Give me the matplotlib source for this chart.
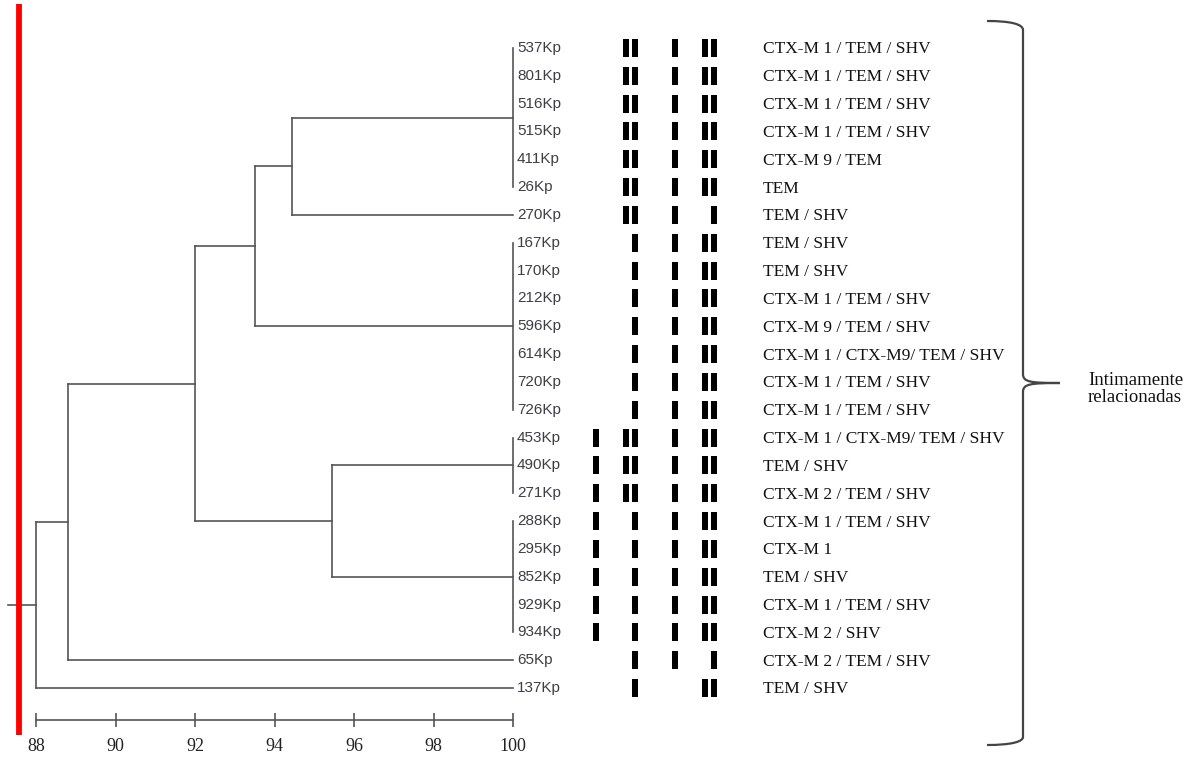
import matplotlib
matplotlib.use("Agg")
import matplotlib.pyplot as plt
from matplotlib.path import Path
from matplotlib.patches import PathPatch
import numpy as np

# ---------------- data ----------------
strains = ["537Kp", "801Kp", "516Kp", "515Kp", "411Kp", "26Kp", "270Kp",
           "167Kp", "170Kp", "212Kp", "596Kp", "614Kp", "720Kp", "726Kp",
           "453Kp", "490Kp", "271Kp", "288Kp", "295Kp", "852Kp", "929Kp",
           "934Kp", "65Kp", "137Kp"]

genes = ["CTX-M 1 / TEM / SHV", "CTX-M 1 / TEM / SHV", "CTX-M 1 / TEM / SHV",
         "CTX-M 1 / TEM / SHV", "CTX-M 9 / TEM", "TEM", "TEM / SHV",
         "TEM / SHV", "TEM / SHV", "CTX-M 1 / TEM / SHV", "CTX-M 9 / TEM / SHV",
         "CTX-M 1 / CTX-M9/ TEM / SHV", "CTX-M 1 / TEM / SHV", "CTX-M 1 / TEM / SHV",
         "CTX-M 1 / CTX-M9/ TEM / SHV", "TEM / SHV", "CTX-M 2 / TEM / SHV",
         "CTX-M 1 / TEM / SHV", "CTX-M 1", "TEM / SHV", "CTX-M 1 / TEM / SHV",
         "CTX-M 2 / SHV", "CTX-M 2 / TEM / SHV", "TEM / SHV"]

# band presence (6 band columns) per strain
bands = [
    [0, 1, 1, 1, 1, 1], [0, 1, 1, 1, 1, 1], [0, 1, 1, 1, 1, 1],
    [0, 1, 1, 1, 1, 1], [0, 1, 1, 1, 1, 1], [0, 1, 1, 1, 1, 1],
    [0, 1, 1, 1, 0, 1],
    [0, 0, 1, 1, 1, 1], [0, 0, 1, 1, 1, 1], [0, 0, 1, 1, 1, 1],
    [0, 0, 1, 1, 1, 1], [0, 0, 1, 1, 1, 1], [0, 0, 1, 1, 1, 1],
    [0, 0, 1, 1, 1, 1],
    [1, 1, 1, 1, 1, 1], [1, 1, 1, 1, 1, 1], [1, 1, 1, 1, 1, 1],
    [1, 0, 1, 1, 1, 1], [1, 0, 1, 1, 1, 1], [1, 0, 1, 1, 1, 1],
    [1, 0, 1, 1, 1, 1], [1, 0, 1, 1, 1, 1],
    [0, 0, 1, 1, 0, 1],
    [0, 0, 1, 0, 1, 1],
]

# dendrogram: (similarity %, children); ints are leaf indices
tree = (88.0, [
    (88.8, [
        (92.0, [
            (93.5, [
                (94.45, [(100.0, [0, 1, 2, 3, 4, 5]), 6]),
                (100.0, [7, 8, 9, 10, 11, 12, 13]),
            ]),
            (95.45, [
                (100.0, [14, 15, 16]),
                (100.0, [17, 18, 19, 20, 21]),
            ]),
        ]),
        22,
    ]),
    23,
])

scale_ticks = [88, 90, 92, 94, 96, 98, 100]
cutoff = 87.57
group_label = "Intimamente\nrelacionadas"

# ---------------- layout ----------------
W, H = 1198, 758
X88, X100 = 36, 513          # pixel x of 88 and 100
PPU = (X100 - X88) / 12.0    # pixels per % unit
Y0, DY = 48, 27.83           # pixel y of first leaf, leaf spacing

def px2x(px):
    return 88 + (px - X88) / PPU

def py2y(py):
    return (py - Y0) / DY

fig = plt.figure(figsize=(W / 100, H / 100), dpi=100)
ax = fig.add_axes([0, 0, 1, 1])
ax.set_xlim(px2x(0), px2x(W))
ax.set_ylim(py2y(H), py2y(0))
ax.axis("off")

LC = "#555555"
LW = 1.2

def draw(node):
    if isinstance(node, int):
        return 100.0, float(node)
    h, kids = node
    pts = [draw(k) for k in kids]
    ys = [p[1] for p in pts]
    ax.plot([h, h], [min(ys), max(ys)], color=LC, lw=LW, solid_capstyle="projecting")
    for (cx, cy) in pts:
        if cx != h:
            ax.plot([h, cx], [cy, cy], color=LC, lw=LW, solid_capstyle="projecting")
    return h, (min(ys) + max(ys)) / 2

rh, ry = draw(tree)
ax.plot([px2x(8), rh], [ry, ry], color=LC, lw=LW)

# leaf labels
for i, s in enumerate(strains):
    ax.text(px2x(517), i, s, ha="left", va="center", fontsize=11,
            family="Liberation Sans", color="#3e3e46")

# bands
band_px = [596, 626, 635, 675, 705, 714]
bw = 6.5 / PPU
bh = 18 / DY
for i, row in enumerate(bands):
    xs = [px2x(band_px[j]) for j, v in enumerate(row) if v]
    ax.bar(xs, bh, width=bw, bottom=i - bh / 2, color="black", align="center")

# gene labels
for i, g in enumerate(genes):
    ax.text(px2x(763), i + 0.05, g, ha="left", va="center", fontsize=12.5,
            family="Liberation Serif", color="#111111")

# red cutoff line
ax.plot([cutoff, cutoff], [py2y(4), py2y(735)], color="#ff0000", lw=4.2,
        solid_capstyle="butt")

# brace (overlay in pixel coords)
ov = fig.add_axes([0, 0, 1, 1], facecolor="none")
ov.set_xlim(0, W)
ov.set_ylim(H, 0)
ov.axis("off")
xb, xt, ymid = 1023, 1060, 383
verts = [(987, 21), (1010, 21), (xb, 24), (xb, 30),
         (xb, 374),
         (xb, 382), (1030, 383), (xt, 383),
         (1030, 383), (xb, 384), (xb, 392),
         (xb, 737),
         (xb, 742), (1010, 745), (987, 745)]
codes = [Path.MOVETO, Path.CURVE4, Path.CURVE4, Path.CURVE4,
         Path.LINETO,
         Path.CURVE4, Path.CURVE4, Path.CURVE4,
         Path.CURVE4, Path.CURVE4, Path.CURVE4,
         Path.LINETO,
         Path.CURVE4, Path.CURVE4, Path.CURVE4]
ov.add_patch(PathPatch(Path(verts, codes), facecolor="none", edgecolor="#444444", lw=1.6))
ov.text(1088, 389, group_label, ha="left", va="center", fontsize=13.5,
        family="Liberation Serif", color="#111111", linespacing=0.95)

# scale axis
sax = fig.add_axes([X88 / W, (H - 720) / H, (X100 - X88) / W, 0.01], facecolor="none")
sax.set_xlim(88, 100)
for sp in ["top", "left", "right"]:
    sax.spines[sp].set_visible(False)
sax.spines["bottom"].set_color(LC)
sax.spines["bottom"].set_linewidth(LW)
sax.set_yticks([])
sax.set_xticks(scale_ticks)
sax.set_xticklabels([str(t) for t in scale_ticks], family="Liberation Serif",
                    fontsize=13, color="#222222")
sax.set_xticks([88], minor=True)
sax.tick_params(axis="x", which="major", direction="inout", length=9.5, width=LW,
                color=LC, pad=8.5)
sax.tick_params(axis="x", which="minor", direction="inout", length=17, width=LW,
                color=LC)

fig.savefig("out.png", dpi=100)
